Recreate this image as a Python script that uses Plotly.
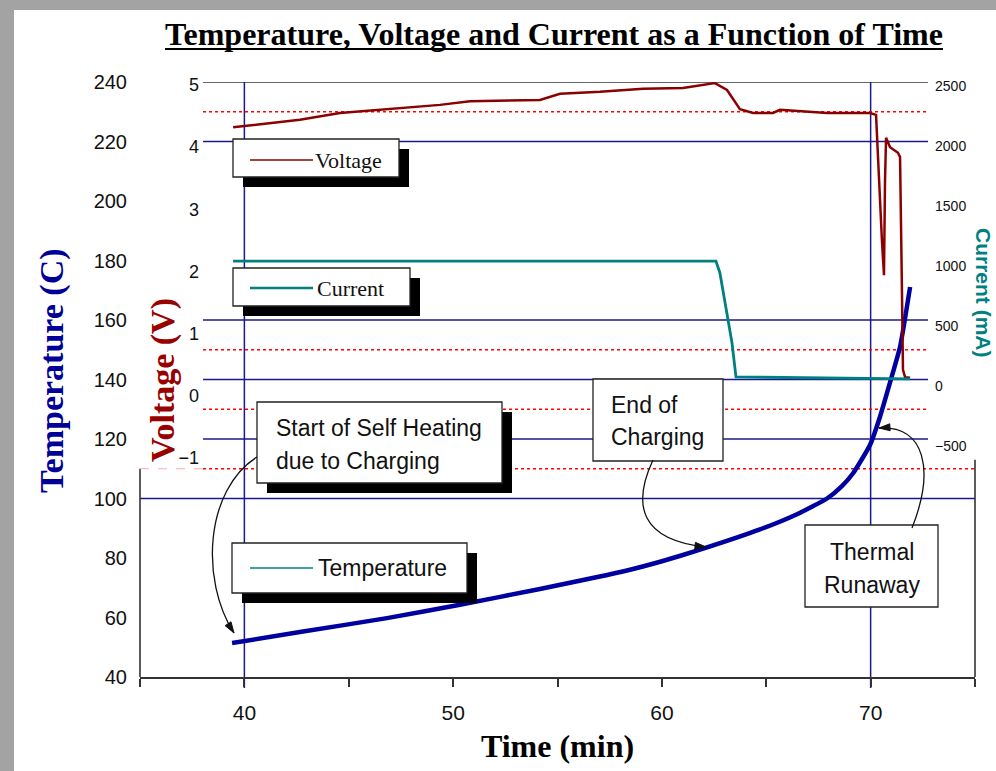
import plotly.graph_objects as go

# ---------------- data ----------------
time_temp = [39.41, 42.66, 46.83, 50.33, 54.16, 58.33, 60.00, 61.83, 64.70, 66.50,
             67.91, 68.60, 69.16, 69.97, 70.45, 70.93, 71.41, 71.89]
temperature = [51.4, 55.1, 59.8, 64.3, 69.6, 75.8, 78.9, 82.8, 89.6, 94.8,
               100.0, 104.0, 108.5, 118.0, 127.5, 139.0, 151.0, 171.1]

time_volt = [39.46, 42.66, 44.58, 49.37, 50.81, 54.16, 55.12, 57.04, 59.10, 61.01,
             62.54, 63.12, 63.74, 64.37, 65.32, 65.66, 67.91, 69.97, 70.26, 70.35,
             70.45, 70.54, 70.64, 70.69, 70.74, 70.93, 71.31, 71.41, 71.46, 71.50,
             71.55, 71.65, 71.89]
voltage = [4.32, 4.44, 4.55, 4.68, 4.74, 4.76, 4.86, 4.89, 4.94, 4.95,
           5.03, 4.92, 4.61, 4.55, 4.55, 4.60, 4.55, 4.55, 4.52, 3.95,
           3.15, 2.51, 1.94, 3.47, 4.15, 4.00, 3.91, 3.84, 2.99, 1.70,
           0.42, 0.30, 0.29]

time_curr = [39.46, 62.59, 62.78, 63.12, 63.36, 63.55, 71.89]
current = [1040, 1040, 942, 608, 358, 75, 60]

time_ticks = [35, 40, 45, 50, 55, 60, 65, 70, 75]
time_labels = ["", "40", "", "50", "", "60", "", "70", ""]
temp_ticks = [40, 60, 80, 100, 120, 140, 160, 180, 200, 220, 240]
volt_ticks = [5, 4, 3, 2, 1, 0, -1]
curr_ticks = [2500, 2000, 1500, 1000, 500, 0, -500]

# gridline levels (temperature units)
blue_grid = [220, 160, 140, 120]
red_grid = [230, 150, 130]
marker_times = [40, 70]

# ---------------- layout helpers ----------------
W, H = 996, 771
L, R, T, B = 140, 975, 82, 677          # plot area in pixels
PANEL_T0, PANEL_T1 = 38.02, 72.75       # extent of the upper framed panel (min)

SERIF = "Liberation Serif, Times New Roman, serif"
SANS = "Liberation Sans, Arial, sans-serif"
NAVY = "#1a1a8c"
TEMP_C = "#0000a0"
VOLT_C = "#8b0000"
CURR_C = "#008080"


def px(x):
    return (x - L) / (R - L)


def py(y):
    return (B - y) / (B - T)


fig = go.Figure()

fig.add_trace(go.Scatter(x=time_temp, y=temperature, mode="lines", yaxis="y",
                         line=dict(color=TEMP_C, width=4.5, shape="spline", smoothing=0.5),
                         name="Temperature"))
fig.add_trace(go.Scatter(x=time_volt, y=voltage, mode="lines", yaxis="y2",
                         line=dict(color=VOLT_C, width=2.5), name="Voltage"))
fig.add_trace(go.Scatter(x=time_curr, y=current, mode="lines", yaxis="y3",
                         line=dict(color=CURR_C, width=2.8), name="Current"))

shapes = []

# background frame strips
shapes.append(dict(type="rect", xref="paper", yref="paper", layer="below",
                   x0=px(0), x1=px(14), y0=py(H), y1=py(0),
                   fillcolor="#a3a3a3", line=dict(width=0)))
shapes.append(dict(type="rect", xref="paper", yref="paper", layer="below",
                   x0=px(0), x1=px(W), y0=py(10), y1=py(0),
                   fillcolor="#a3a3a3", line=dict(width=0)))

# gridlines of the upper panel
for v in blue_grid:
    shapes.append(dict(type="line", xref="x", yref="y", layer="below",
                       x0=PANEL_T0, x1=PANEL_T1, y0=v, y1=v,
                       line=dict(color=NAVY, width=1.5)))
for v in red_grid:
    shapes.append(dict(type="line", xref="x", yref="y", layer="below",
                       x0=PANEL_T0, x1=PANEL_T1, y0=v, y1=v,
                       line=dict(color="#ff0000", width=1.5, dash="dot")))
# full-width lines
shapes.append(dict(type="line", xref="x", yref="y", layer="below",
                   x0=35, x1=PANEL_T0, y0=110, y1=110,
                   line=dict(color="#ffaaaa", width=1, dash="dash")))
shapes.append(dict(type="line", xref="x", yref="y", layer="below",
                   x0=PANEL_T0, x1=75, y0=110, y1=110,
                   line=dict(color="#ff0000", width=1.5, dash="dot")))
shapes.append(dict(type="line", xref="paper", yref="y", layer="below",
                   x0=0, x1=1, y0=100, y1=100,
                   line=dict(color=NAVY, width=1.5)))
# top frame line of the upper panel
shapes.append(dict(type="line", xref="x", yref="y", layer="below",
                   x0=PANEL_T0, x1=PANEL_T1, y0=240, y1=240,
                   line=dict(color="#333333", width=1.6)))
# vertical markers
for t in marker_times:
    shapes.append(dict(type="line", xref="x", yref="paper", layer="below",
                       x0=t, x1=t, y0=py(688), y1=1,
                       line=dict(color=NAVY, width=1.5)))
# short left / right axis lines
shapes.append(dict(type="line", xref="paper", yref="y", layer="below",
                   x0=0, x1=0, y0=40, y1=110, line=dict(color="#333333", width=1.6)))
shapes.append(dict(type="line", xref="paper", yref="y", layer="below",
                   x0=1, x1=1, y0=40, y1=113, line=dict(color="#333333", width=1.6)))


def box(x0, y0, x1, y1, shadow=True):
    if shadow:
        shapes.append(dict(type="rect", xref="paper", yref="paper", layer="above",
                           x0=px(x0 + 10), x1=px(x1 + 10), y0=py(y1 + 10), y1=py(y0 + 10),
                           fillcolor="black", line=dict(width=0)))
    shapes.append(dict(type="rect", xref="paper", yref="paper", layer="above",
                       x0=px(x0), x1=px(x1), y0=py(y1), y1=py(y0),
                       fillcolor="white", line=dict(color="#222222", width=1.3)))


def sample(x0, x1, y, color, width):
    shapes.append(dict(type="line", xref="paper", yref="paper", layer="above",
                       x0=px(x0), x1=px(x1), y0=py(y), y1=py(y),
                       line=dict(color=color, width=width)))


annotations = []


def label(text, x, y, size, family=SANS, anchor="left", color="#111111"):
    annotations.append(dict(text=text, xref="paper", yref="paper", x=px(x), y=py(y),
                            xanchor=anchor, yanchor="middle", showarrow=False,
                            font=dict(family=family, size=size, color=color)))


# legend boxes
box(233, 139, 399, 177)
sample(250, 313, 160, VOLT_C, 1.5)
label("Voltage", 313, 160, 22, SERIF)

box(233, 268, 410, 306)
sample(250, 313, 288, CURR_C, 2.5)
label("Current", 315, 288, 22, SERIF)

box(232, 543, 467, 593)
sample(250, 313, 568, CURR_C, 1.5)
label("Temperature", 316, 568, 23)

# callout boxes
box(257, 402, 502, 483)
label("Start of Self Heating", 274, 428, 23)
label("due to Charging", 274, 461, 23)

box(593, 379, 723, 461, shadow=False)
label("End of", 609, 405, 23)
label("Charging", 609, 437, 23)

box(805, 525, 938, 607, shadow=False)
label("Thermal", 872, 552, 23, anchor="center")
label("Runaway", 872, 585, 23, anchor="center")


# curved callout arrows
def curve(p0, c1, c2, p1):
    path = "M {},{} C {},{} {},{} {},{}".format(
        px(p0[0]), py(p0[1]), px(c1[0]), py(c1[1]),
        px(c2[0]), py(c2[1]), px(p1[0]), py(p1[1]))
    shapes.append(dict(type="path", xref="paper", yref="paper", layer="above",
                       path=path, line=dict(color="#111111", width=1.3)))
    # arrow head along the final tangent
    dx, dy = p1[0] - c2[0], p1[1] - c2[1]
    n = (dx * dx + dy * dy) ** 0.5
    ux, uy = dx / n, dy / n
    bx, by = p1[0] - 11 * ux, p1[1] - 11 * uy
    a = (bx - 3.5 * uy, by + 3.5 * ux)
    b = (bx + 3.5 * uy, by - 3.5 * ux)
    head = "M {},{} L {},{} L {},{} Z".format(px(p1[0]), py(p1[1]),
                                              px(a[0]), py(a[1]), px(b[0]), py(b[1]))
    shapes.append(dict(type="path", xref="paper", yref="paper", layer="above",
                       path=head, fillcolor="#111111", line=dict(color="#111111", width=1)))


curve((257, 457), (205, 490), (200, 580), (234, 633))
curve((653, 460), (632, 505), (640, 540), (706, 547))
curve((912, 528), (935, 470), (925, 425), (879, 428))

# axis titles
annotations.append(dict(text="<b>Temperature (C)</b>", xref="paper", yref="paper",
                        x=px(52), y=py(371), textangle=-90, showarrow=False,
                        xanchor="center", yanchor="middle",
                        font=dict(family=SERIF, size=34, color="#000099")))
annotations.append(dict(text="<b>Voltage (V)</b>", xref="paper", yref="paper",
                        x=px(163), y=py(380), textangle=-90, showarrow=False,
                        xanchor="center", yanchor="middle",
                        font=dict(family=SERIF, size=34, color="#990000")))
annotations.append(dict(text="<b>Current (mA)</b>", xref="paper", yref="paper",
                        x=px(984), y=py(293), textangle=90, showarrow=False,
                        xanchor="center", yanchor="middle",
                        font=dict(family=SANS, size=21, color=CURR_C)))

# title underline
shapes.append(dict(type="line", xref="paper", yref="paper", layer="above",
                   x0=px(165), x1=px(943), y0=py(49), y1=py(49),
                   line=dict(color="black", width=2)))

fig.update_layout(
    width=W, height=H,
    margin=dict(l=L, r=W - R, t=T, b=H - B, pad=0),
    paper_bgcolor="white", plot_bgcolor="rgba(0,0,0,0)",
    showlegend=False,
    title=dict(text="<b>Temperature, Voltage and Current as a Function of Time</b>",
               xref="paper", x=px(554), xanchor="center",
               yref="container", y=1 - 34 / H, yanchor="middle",
               font=dict(family=SERIF, size=32, color="black")),
    xaxis=dict(range=[35, 75], tickvals=time_ticks, ticktext=time_labels,
               ticks="outside", ticklen=8, tickwidth=1.5, tickcolor="#333333",
               showline=True, linecolor="#333333", linewidth=1.6,
               showgrid=False, zeroline=False, ticklabelstandoff=8,
               tickfont=dict(family=SANS, size=21, color="#111111"),
               title=dict(text="<b>Time (min)</b>", standoff=12,
                          font=dict(family=SERIF, size=32, color="black"))),
    yaxis=dict(range=[40, 240], tickvals=temp_ticks, ticks="",
               showline=False, showgrid=False, zeroline=False,
               ticklabelstandoff=12,
               tickfont=dict(family=SANS, size=20, color="#111111")),
    yaxis2=dict(overlaying="y", anchor="free", side="left",
                position=(PANEL_T0 - 35) / 40,
                range=[-4.522, 5.048], tickvals=volt_ticks, ticks="",
                showline=False, showgrid=False, zeroline=False,
                ticklabelstandoff=4,
                tickfont=dict(family=SANS, size=18, color="#111111")),
    yaxis3=dict(overlaying="y", anchor="free", side="right",
                position=(PANEL_T1 - 35) / 40,
                range=[-2425, 2533], tickvals=curr_ticks, ticks="",
                showline=False, showgrid=False, zeroline=False,
                ticklabelstandoff=6,
                tickfont=dict(family=SANS, size=14, color="#111111")),
    shapes=shapes,
    annotations=annotations,
)

fig.write_html("out.html")
